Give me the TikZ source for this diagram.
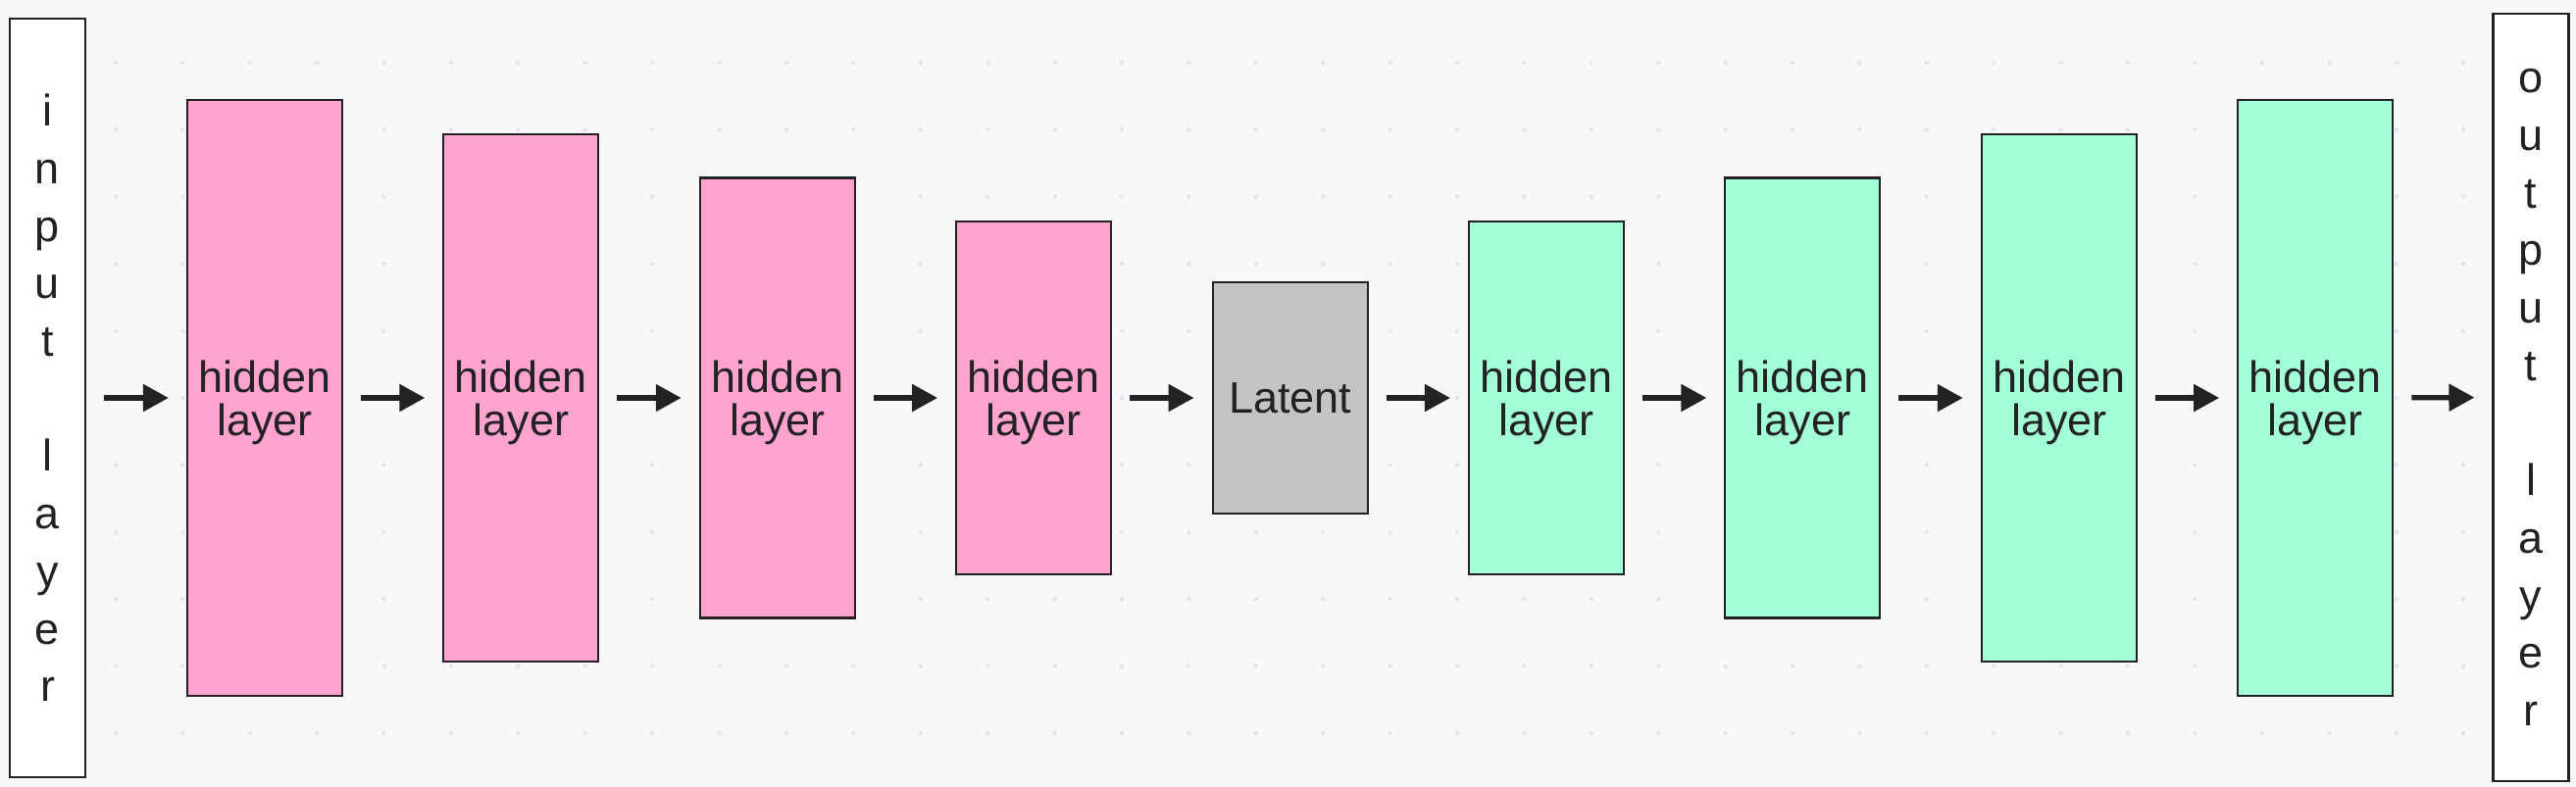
\documentclass[tikz,border=0pt]{standalone}
\usepackage{fontspec}
\setmainfont{Liberation Sans}
\usepackage{tikz}
\usetikzlibrary{arrows.meta,positioning}

\definecolor{canvas}{HTML}{F8F8FA}
\definecolor{griddot}{HTML}{E4E4E9}
\definecolor{encpink}{HTML}{FFA3CF}
\definecolor{decgreen}{HTML}{A3FFD5}
\definecolor{latgray}{HTML}{C4C4C4}
\definecolor{ink}{HTML}{222225}

\begin{document}
\begin{tikzpicture}[>={Triangle[length=0.26cm,width=0.27cm]},
			box node/.style={
				rectangle, draw=ink, line width=0.6pt,
				text=ink, align=center, inner sep=0pt,
				minimum width=1.58cm, text depth=0pt,
				font=\fontsize{12.8}{12.6}\selectfont},
			enc node/.style={box node, fill=encpink},
			dec node/.style={box node, fill=decgreen},
			latent node/.style={box node, fill=latgray},
			io node/.style={
				rectangle, draw=ink, line width=0.6pt,
				fill=white, text=ink, align=center, inner sep=0pt,
				minimum width=0.77cm,
				font=\fontsize{12.8}{16.7}\selectfont},
			link/.style={->, draw=ink, line width=1.5pt,
				shorten <=0.18cm, shorten >=0.18cm}
			]
			% canvas and dotted grid
			\fill[canvas] (0,0) rectangle (26.27,8.03);
			\useasboundingbox (0,0) rectangle (26.27,8.03);
			\foreach \i in {0,...,37}
			\foreach \j in {0,...,10}
			\fill[griddot] (0.496+0.684*\i,7.39-0.684*\j) circle (0.022);
			
			\node[io node,minimum height=7.74cm] (1) at (0.485,3.97)
			{i\\n\\p\\u\\t\\\mbox{}\\l\\a\\y\\e\\r};
			\node[enc node,minimum height=6.08cm] (2) at (2.70,3.97) {hidden\\layer};
			\node[enc node,minimum height=5.38cm] (3) at (5.314,3.97) {hidden\\layer};
			\node[enc node,minimum height=4.49cm] (4) at (7.928,3.97) {hidden\\layer};
			\node[enc node,minimum height=3.60cm] (5) at (10.542,3.97) {hidden\\layer};
			\node[latent node,minimum height=2.36cm] (6) at (13.156,3.97) {Latent};
			\node[dec node,minimum height=3.60cm] (7) at (15.77,3.97) {hidden\\layer};
			\node[dec node,minimum height=4.49cm] (8) at (18.384,3.97) {hidden\\layer};
			\node[dec node,minimum height=5.38cm] (9) at (20.998,3.97) {hidden\\layer};
			\node[dec node,minimum height=6.08cm] (10) at (23.612,3.97) {hidden\\layer};
			\node[io node,minimum height=7.83cm] (11) at (25.81,3.975)
			{o\\u\\t\\p\\u\\t\\\mbox{}\\l\\a\\y\\e\\r};
			
			\path
			(1) edge[link] (2)
			(2) edge[link] (3)
			(3) edge[link] (4)
			(4) edge[link] (5)
			(5) edge[link] (6)
			(6) edge[link] (7)
			(7) edge[link] (8)
			(8) edge[link] (9)
			(9) edge[link] (10)
			(10) edge[link] (11);
		\end{tikzpicture}
\end{document}
